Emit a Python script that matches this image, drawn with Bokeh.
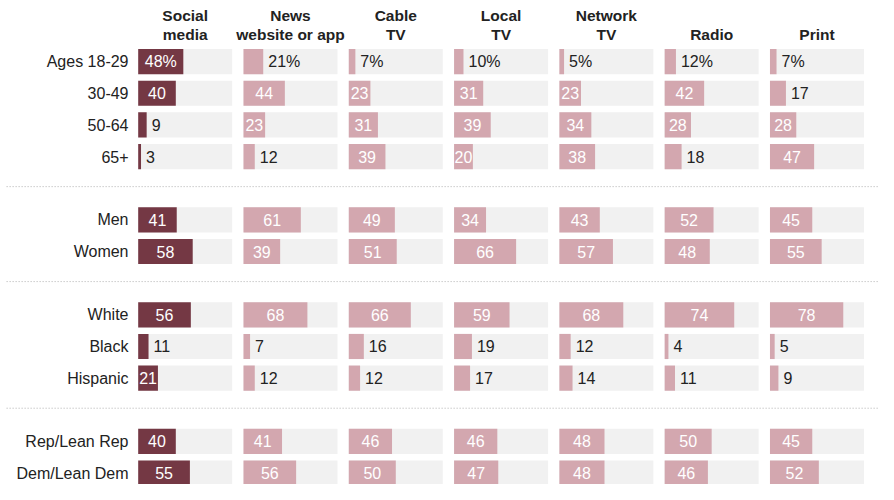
from bokeh.plotting import figure
from bokeh.models import Range1d
from bokeh.core.properties import value
from bokeh.embed import file_html
from bokeh.resources import INLINE

# ---- data ----
columns = ["Social\nmedia", "News\nwebsite or app", "Cable\nTV", "Local\nTV",
           "Network\nTV", "Radio", "Print"]
groups = [
    ["Ages 18-29", "30-49", "50-64", "65+"],
    ["Men", "Women"],
    ["White", "Black", "Hispanic"],
    ["Rep/Lean Rep", "Dem/Lean Dem"],
]
social_media = [48, 40, 9, 3, 41, 58, 56, 11, 21, 40, 55]
news_website = [21, 44, 23, 12, 61, 39, 68, 7, 12, 41, 56]
cable_tv     = [7, 23, 31, 39, 49, 51, 66, 16, 12, 46, 50]
local_tv     = [10, 31, 39, 20, 34, 66, 59, 19, 17, 46, 47]
network_tv   = [5, 23, 34, 38, 43, 57, 68, 12, 14, 48, 48]
radio        = [12, 42, 28, 18, 52, 48, 74, 4, 11, 50, 46]
print_media  = [7, 17, 28, 47, 45, 55, 78, 5, 9, 45, 52]
series = [social_media, news_website, cable_tv, local_tv, network_tv, radio, print_media]

# ---- styling ----
DARK = "#743844"
PINK = "#D3A7AF"
BG = "#F1F1F1"
TXT = "#222222"
FONT = "Liberation Sans"
PX_PER_UNIT = 0.94          # 100% = 94 px
COL_STEP = 105.3 / PX_PER_UNIT
BAR_H = 0.795

# slot positions for rows (extra slot between groups)
row_labels, row_y, sep_y = [], [], []
slot = 0
for gi, g in enumerate(groups):
    if gi > 0:
        sep_y.append(slot)
        slot += 1
    for lab in g:
        row_labels.append(lab)
        row_y.append(slot)
        slot += 1

p = figure(width=878, height=484, output_backend="svg", toolbar_location=None,
           x_range=Range1d(-146.5, 787.6), y_range=Range1d(13.36, -1.93),
           min_border=0)
p.xaxis.visible = False
p.yaxis.visible = False
p.xgrid.visible = False
p.ygrid.visible = False
p.outline_line_color = None
p.background_fill_color = "white"

# separators
for s in sep_y:
    p.line(x=[-140, 800], y=[s - 0.05, s - 0.05], line_color="#b0b0b0",
           line_dash="1 2", line_width=1)

# row labels
p.text(x=[-10.3] * len(row_labels), y=row_y, text=row_labels,
       text_align="right", text_baseline="middle", text_font=value(FONT),
       text_font_size="16px", text_color=TXT)

for ci, (col, vals) in enumerate(zip(columns, series)):
    x0 = ci * COL_STEP
    color = DARK if ci == 0 else PINK
    # headers
    parts = col.split("\n")
    if len(parts) == 1:
        parts = ["", parts[0]]
    p.text(x=[x0 + 50], y=[-1.47], text=[parts[0]], text_align="center",
           text_baseline="middle", text_font=value(FONT), text_font_style="bold",
           text_font_size="15.5px", text_color=TXT)
    p.text(x=[x0 + 50], y=[-0.85], text=[parts[1]], text_align="center",
           text_baseline="middle", text_font=value(FONT), text_font_style="bold",
           text_font_size="15.5px", text_color=TXT)
    # background bars
    p.hbar(y=row_y, left=[x0] * len(row_y), right=[x0 + 100] * len(row_y),
           height=BAR_H, fill_color=BG, line_color=None)
    # value bars
    p.hbar(y=row_y, left=[x0] * len(vals), right=[x0 + v for v in vals],
           height=BAR_H, fill_color=color, line_color=None)
    # labels
    in_x, in_y, in_t, out_x, out_y, out_t = [], [], [], [], [], []
    for ri, v in enumerate(vals):
        t = f"{v}%" if ri == 0 else str(v)
        tw = 8.9 * sum(ch.isdigit() for ch in t) + 14.2 * t.count("%")
        if v * PX_PER_UNIT >= tw + 0.5:
            in_x.append(x0 + v / 2); in_y.append(row_y[ri]); in_t.append(t)
        else:
            out_x.append(x0 + v + 5 / PX_PER_UNIT); out_y.append(row_y[ri]); out_t.append(t)
    p.text(x=in_x, y=in_y, text=in_t, text_align="center", text_baseline="middle",
           text_font=value(FONT), text_font_size="16px", text_color="white")
    p.text(x=out_x, y=out_y, text=out_t, text_align="left", text_baseline="middle",
           text_font=value(FONT), text_font_size="16px", text_color=TXT)

open("out.html", "w").write(file_html(p, INLINE))
